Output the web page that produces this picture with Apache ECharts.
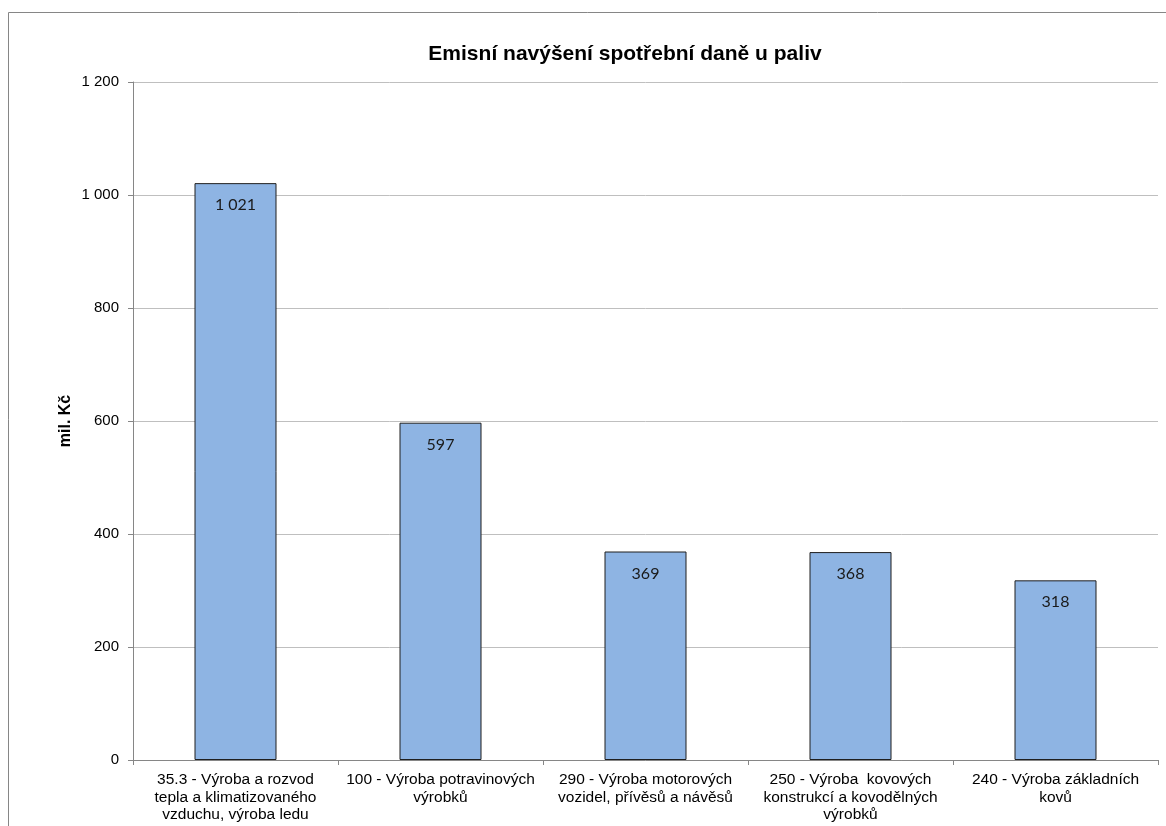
<!DOCTYPE html>
<html>
<head>
<meta charset="utf-8">
<script src="https://cdn.jsdelivr.net/npm/echarts@6/dist/echarts.min.js"></script>
<style>
  html, body { margin: 0; padding: 0; background: #fff; }
  #chart { width: 1166px; height: 826px; }
</style>
</head>
<body>
<div id="chart"></div>
<script>
// Odvětví (popisky kategorií, zalomené do řádků)
const categories = [
  '35.3 - Výroba a rozvod\ntepla a klimatizovaného\nvzduchu, výroba ledu',
  '100 - Výroba potravinových\nvýrobků',
  '290 - Výroba motorových\nvozidel, přívěsů a návěsů',
  '250 - Výroba  kovových\nkonstrukcí a kovodělných\nvýrobků',
  '240 - Výroba základních\nkovů'
];
// Emisní navýšení spotřební daně (mil. Kč)
const values = [1021, 597, 369, 368, 318];
// Osa Y
const yMin = 0, yMax = 1200, yStep = 200;

const sans = 'Liberation Sans, Arial, sans-serif';

// formát s mezerou jako oddělovačem tisíců
function fmt(v) {
  return String(Math.round(v)).replace(/\B(?=(\d{3})+(?!\d))/g, ' ');
}

const chart = echarts.init(document.getElementById('chart'), null, { renderer: 'canvas' });
chart.setOption({
  animation: false,
  backgroundColor: '#ffffff',
  textStyle: { fontFamily: sans },
  title: {
    text: 'Emisní navýšení spotřební daně u paliv',
    left: 620, top: 39, textAlign: 'center',
    textStyle: { fontSize: 21, fontWeight: 'bold', color: '#000', fontFamily: sans }
  },
  graphic: [{
    type: 'rect', silent: true, z: -1,
    shape: { x: 8.5, y: 12.5, width: 1300, height: 1000 },
    style: { fill: 'none', stroke: '#868686', lineWidth: 1 }
  }],
  grid: { left: 133, right: 8, top: 82, bottom: 66, containLabel: false },
  xAxis: {
    type: 'category',
    data: categories,
    axisLine: { lineStyle: { color: '#868686' } },
    axisTick: { show: true, length: 5, lineStyle: { color: '#868686' } },
    axisLabel: {
      interval: 0, color: '#000', fontSize: 15.5, lineHeight: 17.5, margin: 11,
      fontFamily: sans
    }
  },
  yAxis: {
    type: 'value',
    min: yMin, max: yMax, interval: yStep,
    name: 'mil. Kč', nameLocation: 'middle', nameGap: 59, nameRotate: 90,
    nameMoveOverlap: false,
    nameTextStyle: { fontSize: 16, fontWeight: 'bold', color: '#000', fontFamily: sans },
    axisLine: { show: true, lineStyle: { color: '#868686' } },
    axisTick: { show: true, length: 5, lineStyle: { color: '#868686' } },
    axisLabel: { color: '#000', fontSize: 15, margin: 14, formatter: fmt, fontFamily: sans },
    splitLine: { lineStyle: { color: '#bfbfbf', width: 1 } }
  },
  series: [{
    type: 'bar',
    data: values,
    barWidth: '40%',
    itemStyle: { color: '#8eb4e3', borderColor: '#1f1f1f', borderWidth: 1 },
    label: {
      show: true, position: 'insideTop', distance: 14,
      color: '#1a1a1a', fontSize: 16, formatter: p => fmt(p.value),
      fontFamily: 'Lato, sans-serif'
    }
  }]
});
</script>
</body>
</html>
